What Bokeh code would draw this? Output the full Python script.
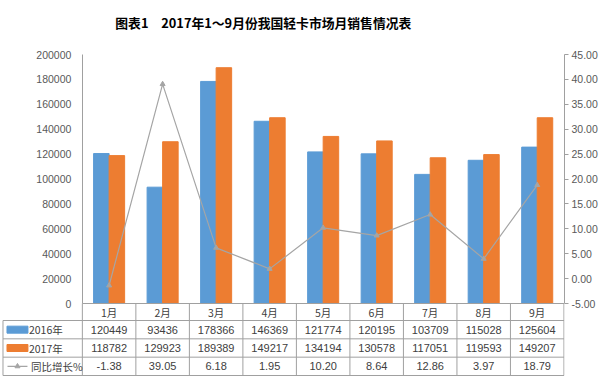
from bokeh.plotting import figure
from bokeh.models import Range1d, LinearAxis, FixedTicker, NumeralTickFormatter
from bokeh.embed import file_html
from bokeh.resources import INLINE
from bokeh.core.properties import value

# ---- data ----
months = ["1月", "2月", "3月", "4月", "5月", "6月", "7月", "8月", "9月"]
sales_2016 = [120449, 93436, 178366, 146369, 121774, 120195, 103709, 115028, 125604]
sales_2017 = [118782, 129923, 189389, 149217, 134194, 130578, 117051, 119593, 149207]
growth = [-1.38, 39.05, 6.18, 1.95, 10.20, 8.64, 12.86, 3.97, 18.79]
series_names = ["2016年", "2017年", "同比增长%"]
left_ticks = [0, 20000, 40000, 60000, 80000, 100000, 120000, 140000, 160000, 180000, 200000]
right_ticks = [-5, 0, 5, 10, 15, 20, 25, 30, 35, 40, 45]
title_text = "图表1\u30002017年1～9月份我国轻卡市场月销售情况表"

# ---- styling / layout ----
BLUE = "#5B9BD5"
ORANGE = "#ED7D31"
GREY = "#A5A5A5"
AXIS = "#A0A0A0"
TXT = "#404040"
CJK = "Noto Sans CJK SC"
NUM = "Liberation Sans"

W, H = 600, 377
RB, BB = 35, 1
n = len(months)
frame_bot = H - BB               # 376
plot_left = 82.0                 # pixel of category 0 edge / value axis
plot_top, axis_px = 54.0, 303.0  # pixel rows of the top value and of value 0
plot_h = axis_px - plot_top
row_h = 18.333
tbl_bot = 375.0
hdr_top_t = (tbl_bot - axis_px) / row_h

ppu = (W - RB - plot_left) / (n + 0.01)
xr = Range1d(-plot_left / ppu, n + 0.01)

ymax = left_ticks[-1]
y_range = Range1d(-(frame_bot - axis_px) / plot_h * ymax, ymax + plot_top / plot_h * ymax)
g_lo, g_hi = right_ticks[0], right_ticks[-1]
g_span = g_hi - g_lo
g_range = Range1d(g_lo - (frame_bot - axis_px) / plot_h * g_span, g_hi + plot_top / plot_h * g_span)
t_range = Range1d(-(frame_bot - tbl_bot) / row_h, tbl_bot / row_h)


def xd(px):
    return (px - plot_left) / ppu


def td(py):
    return (tbl_bot - py) / row_h


xc = [i + 0.5 for i in range(n)]
bw = 0.29

p = figure(width=W, height=H, x_range=xr, y_range=y_range,
           output_backend="svg", toolbar_location=None, x_axis_location=None,
           min_border_left=0, min_border_right=RB, min_border_top=0, min_border_bottom=BB)
p.outline_line_color = None
p.grid.visible = False
p.background_fill_color = "white"
p.border_fill_color = "white"

ya = p.yaxis[0]
ya.fixed_location = 0
ya.ticker = FixedTicker(ticks=left_ticks)
ya.formatter = NumeralTickFormatter(format="0")
ya.bounds = (0, ymax)
ya.major_tick_out = 0
ya.major_tick_in = 0
ya.minor_tick_out = 0
ya.minor_tick_in = 0
ya.major_label_standoff = 11
ya.axis_line_color = AXIS
ya.major_label_text_color = "#595959"
ya.major_label_text_font = NUM
ya.major_label_text_font_size = "10.5px"

p.extra_y_ranges = {"g": g_range, "t": t_range}
ra = LinearAxis(y_range_name="g", ticker=FixedTicker(ticks=right_ticks),
                formatter=NumeralTickFormatter(format="0.00"), bounds=(g_lo, g_hi))
ra.major_tick_out = 4
ra.major_tick_in = 0
ra.minor_tick_out = 0
ra.minor_tick_in = 0
ra.major_label_standoff = 3
ra.axis_line_color = AXIS
ra.major_tick_line_color = AXIS
ra.major_label_text_color = "#595959"
ra.major_label_text_font = NUM
ra.major_label_text_font_size = "10.5px"
p.add_layout(ra, "right")

# title
p.text(x=[xd(115)], y=[td(22)], text=[title_text], y_range_name="t",
       text_align="left", text_baseline="middle", text_font=value(CJK),
       text_font_size="12.8px", text_font_style="bold", text_color="#000000")

# bars and line
p.vbar(x=[x - bw / 2 for x in xc], top=sales_2016, width=bw, color=BLUE)
p.vbar(x=[x + bw / 2 for x in xc], top=sales_2017, width=bw, color=ORANGE)
p.line(xc, growth, y_range_name="g", color=GREY, line_width=1.2)
p.scatter(xc, growth, y_range_name="g", marker="triangle", size=5, color=GREY)

# ---- data table ----
xl = xd(2.5)
p.segment(x0=[0], y0=[hdr_top_t], x1=[n], y1=[hdr_top_t], y_range_name="t", color=AXIS, line_width=1)
hl = [3, 2, 1, 0]
p.segment(x0=[xl] * 4, y0=hl, x1=[n] * 4, y1=hl, y_range_name="t", color=AXIS, line_width=1)
vx = list(range(n + 1))
p.segment(x0=vx, y0=[0] * len(vx), x1=vx, y1=[hdr_top_t] * len(vx), y_range_name="t",
          color=AXIS, line_width=1)
p.segment(x0=[xl], y0=[0], x1=[xl], y1=[3], y_range_name="t", color=AXIS, line_width=1)

p.text(x=xc, y=[(3 + hdr_top_t) / 2] * n, text=months, y_range_name="t",
       text_align="center", text_baseline="middle",
       text_font=value(CJK), text_font_size="10.5px", text_color=TXT)

rows = [[str(v) for v in sales_2016], [str(v) for v in sales_2017], ["%.2f" % v for v in growth]]
for r, vals in enumerate(rows):
    p.text(x=xc, y=[2.5 - r] * n, text=vals, y_range_name="t",
           text_align="center", text_baseline="middle",
           text_font=value(NUM), text_font_size="11px", text_color=TXT)

# label column with legend keys
kx = xd(17)
p.rect(x=[kx, kx], y=[2.5, 1.5], width=21 / ppu, height=7 / row_h, y_range_name="t",
       color=[BLUE, ORANGE])
p.segment(x0=[xd(7)], y0=[0.5], x1=[xd(27)], y1=[0.5], y_range_name="t", color=GREY, line_width=1.2)
p.scatter([kx], [0.5], y_range_name="t", marker="triangle", size=5, color=GREY)
p.text(x=[xd(28.5), xd(28.5), xd(30.5)], y=[2.5, 1.5, 0.5], text=series_names, y_range_name="t",
       text_align="left", text_baseline="middle", text_font=value(CJK),
       text_font_size="10.5px", text_color=TXT)

open("out.html", "w").write(file_html(p, INLINE))
